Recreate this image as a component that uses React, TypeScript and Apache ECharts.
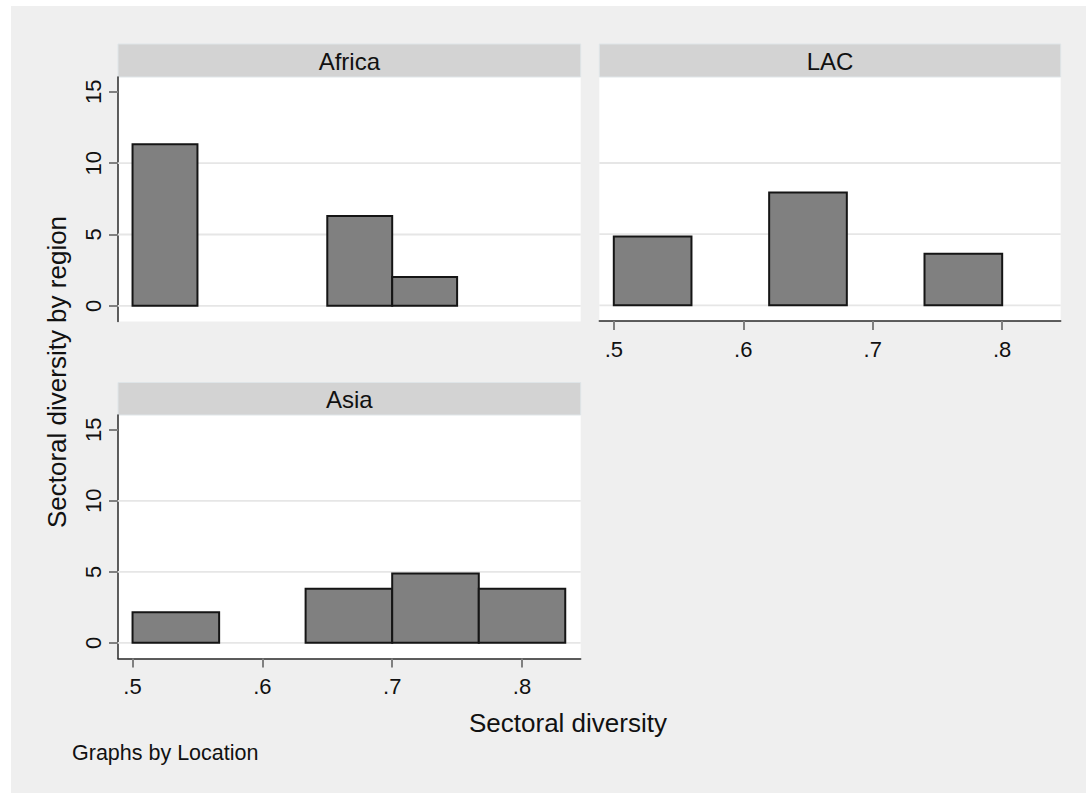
import React, { useEffect, useRef } from "react";
import * as echarts from "echarts";

// ---- data (density histograms of sectoral diversity by region) ----
const panels = ["Africa", "LAC", "Asia"];

const africaLo = [0.5, 0.65, 0.7];
const africaHi = [0.55, 0.7, 0.75];
const africaDensity = [11.33, 6.3, 2.02];

const lacLo = [0.5, 0.62, 0.74];
const lacHi = [0.56, 0.68, 0.8];
const lacDensity = [4.84, 7.92, 3.63];

const asiaLo = [0.5, 0.6333, 0.7, 0.7667];
const asiaHi = [0.5667, 0.7, 0.7667, 0.8333];
const asiaDensity = [2.15, 3.81, 4.88, 3.81];

const xTicks = [0.5, 0.6, 0.7, 0.8];
const yTicks = [0, 5, 10, 15];
const gridValues = [0, 5, 10];

const xTitle = "Sectoral diversity";
const yTitle = "Sectoral diversity by region";
const noteText = "Graphs by Location";

const FONT = '"Liberation Sans", Arial, Helvetica, sans-serif';

const X_MIN = 0.4888;
const X_MAX = 0.8452;
const Y_MIN = -1.1;
const Y_MAX = 16.04;

function histData(lo: number[], hi: number[], d: number[]) {
  return lo.map((v, i) => [v, hi[i], d[i]]);
}

const gridRects = [
  { left: 118, top: 77, width: 462.7, height: 244.5 },
  { left: 599.3, top: 77, width: 461.4, height: 244 },
  { left: 118, top: 415, width: 462.7, height: 243.5 },
];

const headerRects = [
  { x: 118, y: 44, width: 462.7, height: 33 },
  { x: 599.3, y: 44, width: 461.4, height: 33 },
  { x: 118, y: 382.5, width: 462.7, height: 32.5 },
];

export default function App() {
  const ref = useRef<HTMLDivElement>(null);

  useEffect(() => {
    if (!ref.current) return;
    const chart = echarts.init(ref.current, null, { renderer: "svg" });

    const showX = [false, true, true];
    const showY = [true, false, true];

    const xAxes = gridRects.map((_, i) => ({
      type: "value",
      gridIndex: i,
      min: X_MIN,
      max: X_MAX,
      axisLine: { show: showX[i], onZero: false, lineStyle: { color: "#2a2a2a", width: 1.5 } },
      axisTick: {
        show: showX[i],
        customValues: xTicks,
        length: 9,
        lineStyle: { color: "#808080", width: 2 },
      },
      axisLabel: {
        show: showX[i],
        customValues: xTicks,
        formatter: (v: number) => String(Math.round(v * 10) / 10).replace(/^0/, ""),
        fontSize: 22,
        fontFamily: FONT,
        color: "#111",
        margin: 17,
      },
      splitLine: { show: false },
    }));

    const yAxes = gridRects.map((_, i) => ({
      type: "value",
      gridIndex: i,
      min: Y_MIN,
      max: Y_MAX,
      axisLine: { show: showY[i], onZero: false, lineStyle: { color: "#2a2a2a", width: 1.5 } },
      axisTick: {
        show: showY[i],
        customValues: yTicks,
        length: 9,
        lineStyle: { color: "#808080", width: 2 },
      },
      axisLabel: {
        show: showY[i],
        customValues: yTicks,
        rotate: 90,
        fontSize: 22,
        fontFamily: FONT,
        color: "#111",
        margin: 14,
      },
      splitLine: { show: false },
    }));

    const histRender = (params: any, api: any) => {
      const p0 = api.coord([api.value(0), api.value(2)]);
      const p1 = api.coord([api.value(1), 0]);
      return {
        type: "rect",
        shape: { x: p0[0], y: p0[1], width: p1[0] - p0[0], height: p1[1] - p0[1] },
        style: { fill: "#808080", stroke: "#151515", lineWidth: 2 },
      };
    };

    const gridLineRender = (params: any, api: any) => {
      const cs = params.coordSys;
      const y = api.coord([X_MIN, api.value(0)])[1];
      return {
        type: "line",
        shape: { x1: cs.x, y1: y, x2: cs.x + cs.width, y2: y },
        style: { stroke: "#e6e6e6", lineWidth: 1.8 },
      };
    };

    const datasets = [
      histData(africaLo, africaHi, africaDensity),
      histData(lacLo, lacHi, lacDensity),
      histData(asiaLo, asiaHi, asiaDensity),
    ];

    const series: any[] = [];
    datasets.forEach((d, i) => {
      series.push({
        type: "custom",
        name: panels[i] + " grid",
        xAxisIndex: i,
        yAxisIndex: i,
        z: 1,
        silent: true,
        renderItem: gridLineRender,
        data: gridValues.map((v) => [v]),
        encode: { y: 0 },
      });
      series.push({
        type: "custom",
        name: panels[i],
        xAxisIndex: i,
        yAxisIndex: i,
        z: 3,
        renderItem: histRender,
        data: d,
        encode: { x: [0, 1], y: 2 },
      });
    });

    const graphics: any[] = [
      {
        type: "rect",
        z: -10,
        silent: true,
        shape: { x: 11, y: 6, width: 1100, height: 800 },
        style: { fill: "#efefef" },
      },
    ];
    headerRects.forEach((r, i) => {
      graphics.push({
        type: "rect",
        shape: r,
        style: { fill: "#d3d3d3", stroke: "#dfe5e8", lineWidth: 1 },
      });
      graphics.push({
        type: "text",
        x: r.x + r.width / 2,
        y: r.y + r.height / 2 + 1,
        style: {
          text: panels[i],
          fontSize: 24,
          fontFamily: FONT,
          fill: "#111",
          align: "center",
          verticalAlign: "middle",
          textAlign: "center",
          textVerticalAlign: "middle",
        },
      });
    });
    graphics.push({
      type: "text",
      x: 568,
      y: 723,
      style: {
        text: xTitle,
        fontSize: 26,
        fontFamily: FONT,
        fill: "#111",
        align: "center",
        verticalAlign: "middle",
        textAlign: "center",
        textVerticalAlign: "middle",
      },
    });
    graphics.push({
      type: "text",
      x: 57,
      y: 372,
      rotation: Math.PI / 2,
      style: {
        text: yTitle,
        fontSize: 26,
        fontFamily: FONT,
        fill: "#111",
        align: "center",
        verticalAlign: "middle",
        textAlign: "center",
        textVerticalAlign: "middle",
      },
    });
    graphics.push({
      type: "text",
      x: 72,
      y: 753,
      style: {
        text: noteText,
        fontSize: 21.5,
        fontFamily: FONT,
        fill: "#111",
        align: "left",
        verticalAlign: "middle",
        textAlign: "left",
        textVerticalAlign: "middle",
      },
    });

    chart.setOption({
      animation: false,
      backgroundColor: "#ffffff",
      graphic: { elements: graphics },
      grid: gridRects.map((g) => ({
        ...g,
        show: true,
        backgroundColor: "#ffffff",
        borderWidth: 0,
        containLabel: false,
      })),
      xAxis: xAxes,
      yAxis: yAxes,
      series,
    });

    return () => chart.dispose();
  }, []);

  return (
    <div style={{ position: "fixed", left: 0, top: 0, width: 1086, height: 793, background: "#fff" }}>
      <div ref={ref} style={{ width: 1086, height: 793 }} />
    </div>
  );
}
